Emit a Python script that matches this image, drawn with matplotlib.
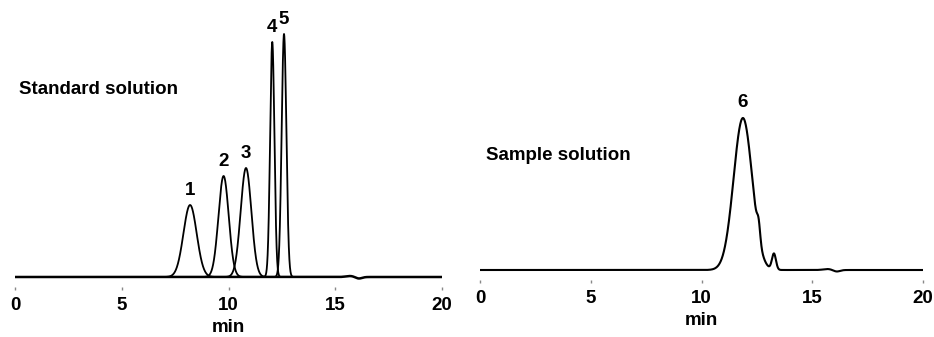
"""HPLC chromatograms: standard solution vs sample solution."""

import matplotlib.pyplot as plt
import numpy as np

plt.rcParams["font.family"] = ["Liberation Sans", "DejaVu Sans"]
plt.rcParams["font.weight"] = "bold"

# Standard solution peaks (retention time [min], height, width sigma [min])
std_labels = ["1", "2", "3", "4", "5"]
std_rt = [8.2, 9.77, 10.82, 12.05, 12.6]
std_height = [72, 101, 109, 235, 243]
std_sigma = [0.31, 0.24, 0.25, 0.1, 0.11]

# Sample solution: main peak 6 plus two small co-eluting bumps
smp_labels = ["6", "", ""]
smp_rt = [11.87, 12.58, 13.27]
smp_height = [152, 15, 16]
smp_sigma = [0.42, 0.07, 0.09]

# Small baseline disturbance near 16 min (both runs)
drift_rt = [15.7, 16.1]
drift_height = [1.0, -1.6]
drift_sigma = [0.2, 0.15]

x_ticks = [0, 5, 10, 15, 20]

fontsize = 13.5


def peak(t, rt, height, sigma):
    return height * np.exp(-0.5 * ((t - rt) / sigma) ** 2)


def style_axis(ax, ylim):
    ax.set_xlim(0, 20)
    ax.set_ylim(*ylim)
    for side in ["top", "right", "left", "bottom"]:
        ax.spines[side].set_visible(False)
    ax.set_yticks([])
    ax.set_xticks(x_ticks)
    ax.tick_params(axis="x", length=2.5, width=1, color="#888888",
                   pad=5, labelsize=fontsize)
    for lab in ax.get_xticklabels():
        lab.set_fontweight("bold")
    ax.set_xlabel("min", fontsize=fontsize, fontweight="bold", labelpad=3)


t = np.linspace(0, 20, 4001)
drift = sum(peak(t, r, h, s) for r, h, s in zip(drift_rt, drift_height, drift_sigma))

W, H = 934, 337
fig = plt.figure(figsize=(W / 100, H / 100), dpi=100)

# left panel: x 0 -> px 15, 20 -> px 442; baseline at px 277
ax1 = fig.add_axes([15 / W, 1 - 287 / H, 427 / W, 282 / H])
ax1.plot(t, drift, color="black", lw=1.8, zorder=2)
for lab, r, h, s in zip(std_labels, std_rt, std_height, std_sigma):
    tt = np.linspace(r - 4.5 * s, r + 4.5 * s, 400)
    ax1.plot(tt, peak(tt, r, h, s), color="black", lw=1.3, zorder=3)
    ax1.text(r, h + 6, lab, ha="center", va="bottom",
             fontsize=fontsize, fontweight="bold")
style_axis(ax1, (-10, 272))
ax1.text(0.18, 188, "Standard solution", ha="left", va="center",
         fontsize=fontsize, fontweight="bold")

# right panel: x 0 -> px 480, 20 -> px 923; baseline at px 270
ax2 = fig.add_axes([480 / W, 1 - 280 / H, 443 / W, 275 / H])
signal = drift.copy()
for r, h, s in zip(smp_rt, smp_height, smp_sigma):
    signal += peak(t, r, h, s)
ax2.plot(t, signal, color="black", lw=1.5)
for lab, r, h in zip(smp_labels, smp_rt, smp_height):
    if lab:
        ax2.text(r, h + 7, lab, ha="center", va="bottom",
                 fontsize=fontsize, fontweight="bold")
style_axis(ax2, (-10, 265))
ax2.text(0.25, 115, "Sample solution", ha="left", va="center",
         fontsize=fontsize, fontweight="bold")

fig.savefig("out.png", dpi=100)
